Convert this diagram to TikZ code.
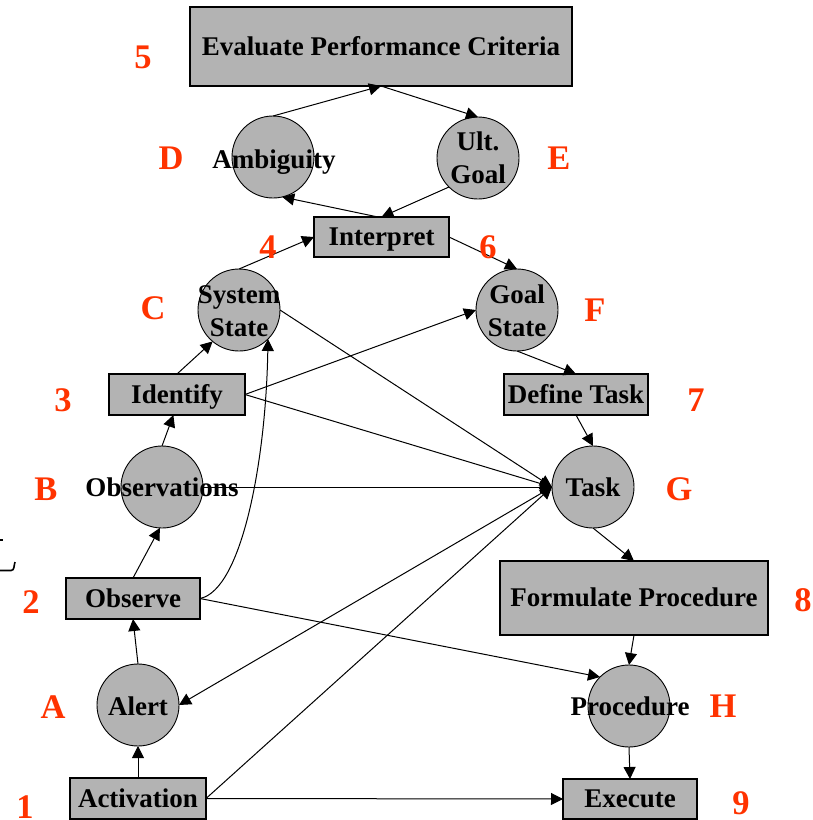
\documentclass[tikz,border=0pt]{standalone}
\usepackage{fontspec}
\setmainfont{Liberation Serif}
\usetikzlibrary{arrows.meta}
\definecolor{nodegray}{RGB}{179,179,179}
\definecolor{labred}{RGB}{255,51,0}
\begin{document}
\begin{tikzpicture}[x=1pt,y=-1pt,
  every node/.style={inner sep=0pt, outer sep=0pt},
  box/.style={draw=black, line width=1.4pt, fill=nodegray, rectangle,
    font=\fontsize{27}{30}\selectfont\bfseries, text height=17.6pt, text depth=0pt},
  circ/.style={draw=black, line width=0.9pt, fill=nodegray, circle, minimum size=82pt},
  ctext/.style={font=\fontsize{27}{30}\selectfont\bfseries, text height=17.6pt, text depth=0pt},
  ctwo/.style={font=\fontsize{27}{33}\selectfont\bfseries, align=center},
  lab/.style={text=labred, font=\fontsize{34.5}{36}\selectfont\bfseries, text height=23pt, text depth=0pt},
  arr/.style={-{Triangle[length=12pt,width=12pt]}, line width=1pt},
]
\useasboundingbox (0,0) rectangle (813,820);

% boxes
\node[box, minimum width=382pt, minimum height=79pt] (eval) at (381,46.5) {Evaluate Performance Criteria};
\node[box, minimum width=135pt, minimum height=40pt] (interp) at (381.5,237) {Interpret};
\node[box, minimum width=136pt, minimum height=41pt] (identify) at (177,394.5) {Identify};
\node[box, minimum width=144pt, minimum height=41pt] (define) at (576,394.5) {Define Task};
\node[box, minimum width=134pt, minimum height=41pt] (observe) at (133,598.5) {Observe};
\node[box, minimum width=268pt, minimum height=74pt] (formulate) at (634,598) {Formulate Procedure};
\node[box, minimum width=136pt, minimum height=41pt] (activation) at (138,798.5) {Activation};
\node[box, minimum width=134pt, minimum height=40pt] (execute) at (630,799) {Execute};

% circles
\node[circ] (amb) at (273,157) {};
\node[circ] (ult) at (478,158) {};
\node[circ] (ss) at (239,310) {};
\node[circ] (gs) at (517,310) {};
\node[circ] (obs) at (162,487) {};
\node[circ] (task) at (593,487) {};
\node[circ] (alert) at (138,705) {};
\node[circ] (proc) at (629,706) {};

% connectors
\draw[arr] (amb.north) -- (eval.south);
\draw[arr] (eval.south) -- (ult.north);
\draw[arr] (interp.100) -- (amb.-77);
\draw[arr] (ult.225) -- (interp.north);
\draw[arr] (ss.north) -- (interp.west);
\draw[arr] (interp.east) -- (gs.north);
\draw[arr] (identify.north) -- (ss.230);
\draw[arr] (identify.east) -- (gs.west);
\draw[arr] (identify.east) -- (task.west);
\draw[arr] (ss.east) -- (task.west);
\draw[arr] (gs.south) -- (define.north);
\draw[arr] (define.south) -- (task.north);
\draw[arr] (obs.east) -- (task.west);
\draw[arr] (obs.north) -- (identify.-100);
\draw[arr] (observe.north) -- (obs.-93);
\draw[arr] (observe.east) .. controls (242,590) and (266,460) .. (ss.-45);
\draw[arr] (observe.east) -- (proc.135);
\draw[arr] (task.west) -- (alert.east);
\draw[arr] (activation.east) -- (task.west);
\draw[arr] (activation.east) -- (execute.west);
\draw[arr] (activation.north) -- (alert.south);
\draw[arr] (alert.north) -- (observe.south);
\draw[arr] (task.south) -- (formulate.north);
\draw[arr] (formulate.south) -- (proc.north);
\draw[arr] (proc.south) -- (execute.north);

% circle texts
\node[ctext] (amb-t) at (274,160) {Ambiguity};
\node[ctwo] (ult-t) at (478,158) {Ult.\\Goal};
\node[ctwo] (ss-t) at (239,311) {System\\State};
\node[ctwo] (gs-t) at (517,311) {Goal\\State};
\node[ctext] (obs-t) at (162,488) {Observations};
\node[ctext] (task-t) at (593,488) {Task};
\node[ctext] (alert-t) at (138,707) {Alert};
\node[ctext] (proc-t) at (630,707) {Procedure};

% red labels
\node[lab] (l5) at (143,57) {5};
\node[lab] (lD) at (171,158) {D};
\node[lab] (lE) at (559,158) {E};
\node[lab] (l4) at (268,247) {4};
\node[lab] (l6) at (488,247) {6};
\node[lab] (lC) at (153,308) {C};
\node[lab] (lF) at (595,310) {F};
\node[lab] (l3) at (63,400) {3};
\node[lab] (l7) at (696,400) {7};
\node[lab] (lB) at (46,489) {B};
\node[lab] (lG) at (679,489) {G};
\node[lab] (l2) at (31,602) {2};
\node[lab] (l8) at (803,600) {8};
\node[lab] (lA) at (53,707) {A};
\node[lab] (lH) at (723,706) {H};
\node[lab] (l1) at (25,807) {1};
\node[lab] (l9) at (741,803) {9};

% stray mark at left edge
\draw[line width=1.5pt] (0,540) -- (3,540);
\draw[line width=1.6pt] (0,570.5) -- (11,570.5) to[out=0,in=-110] (15,562);
\end{tikzpicture}
\end{document}
